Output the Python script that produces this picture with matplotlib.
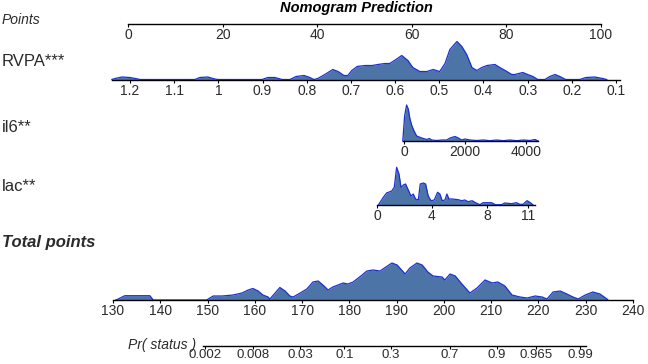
import numpy as np
import matplotlib.pyplot as plt
from matplotlib.ticker import NullLocator

plt.rcParams['font.family'] = ['Liberation Sans', 'DejaVu Sans']

W, H = 648, 364

# ---- data ----
points_ticks = [0, 20, 40, 60, 80, 100]

rvpa_ticks = [1.2, 1.1, 1.0, 0.9, 0.8, 0.7, 0.6, 0.5, 0.4, 0.3, 0.2, 0.1]
rvpa_labels = ["1.2", "1.1", "1", "0.9", "0.8", "0.7", "0.6", "0.5", "0.4", "0.3", "0.2", "0.1"]
rvpa_x = [1.241, 1.234, 1.218, 1.200, 1.182, 1.177,
          1.053, 1.042, 1.024, 1.008, 1.001,
          0.901, 0.888, 0.872, 0.856,
          0.838, 0.824, 0.806, 0.793, 0.784,
          0.775, 0.759, 0.741, 0.729, 0.716, 0.707, 0.698, 0.686, 0.668, 0.652,
          0.639, 0.623, 0.612, 0.598, 0.585, 0.571, 0.560, 0.544, 0.528, 0.514,
          0.499, 0.487, 0.476, 0.460, 0.449, 0.438, 0.426, 0.415, 0.404, 0.392,
          0.374, 0.363, 0.347, 0.336, 0.329, 0.311, 0.300, 0.288, 0.277,
          0.261, 0.250, 0.238, 0.227, 0.214,
          0.182, 0.168, 0.148, 0.130, 0.121]
rvpa_d = [0, 1, 2.5, 2, 0.5, 0,
          0, 2, 2.5, 0.5, 0,
          0, 2, 2, 0,
          0, 3, 4, 2, 0,
          1, 5, 10, 8, 4, 4, 9, 13, 14, 14,
          15, 16, 16, 20, 24, 19, 12, 8, 8, 10,
          8, 16, 30, 38, 33, 25, 12, 9, 12, 14,
          15, 12, 8, 5, 5, 7, 5, 3, 0,
          0, 3, 5, 3, 0,
          0, 2, 2.5, 1, 0]

il6_ticks = [0, 2000, 4000]
il6_x = [-40, 20, 85, 140, 195, 260, 330, 415, 580, 745, 830, 905, 1070, 1235, 1400,
         1510, 1670, 1780, 1890, 2000, 2165, 2385, 2600, 2820, 3040, 3255, 3475,
         3695, 3915, 4130, 4295, 4400]
il6_d = [0, 25, 36, 32, 22, 15, 10, 5, 3, 1.5, 2.5, 1, 0.5, 1, 1,
         3, 4.5, 3, 1, 2, 1, 0.5, 1, 0.3, 1, 0.3, 1,
         0.3, 1, 0.5, 1.5, 0]

lac_ticks = [0, 4, 8, 11]
lac_x = [0.10, 0.46, 0.70, 1.07, 1.26, 1.43, 1.60, 1.75, 1.92, 2.08, 2.28, 2.47,
         2.64, 2.81, 3.01, 3.15, 3.37, 3.54, 3.73, 3.93, 4.17, 4.41, 4.58, 4.75,
         4.95, 5.09, 5.24, 5.48, 5.92, 6.16, 6.40, 6.64, 6.93, 7.18, 7.49, 7.73,
         8.34, 8.63, 9.07, 9.31, 9.80, 10.16, 10.40, 10.64, 10.93, 11.13, 11.37]
lac_d = [0, 7.7, 12, 14, 17.7, 37.7, 31, 17.7, 20, 21, 15, 9,
         11, 6, 5, 21, 22, 21, 9, 4.3, 5, 12.7, 11, 4.3,
         5, 11, 6, 6, 5.3, 4.3, 5, 3.3, 4.3, 2.3, 0.3, 2.3,
         2.3, 0.3, 0.3, 2, 1.3, 2.3, 0.7, 0.7, 4.3, 2.7, 0]

total_ticks = list(range(130, 250, 10))
total_x = [130.6, 131.1, 132.5, 137.8, 138.5,
           149.8, 151.2, 153.1, 155.4, 157.3, 158.6, 159.6, 160.7, 161.7, 162.8,
           163.2, 164.3, 165.3, 166.4, 167.4, 168.1, 169.6, 171.0, 172.3, 173.4,
           174.4, 175.5, 176.5, 178.7, 179.7, 180.8, 182.7, 183.7, 185.0, 186.5,
           187.1, 189.0, 190.1, 191.8, 192.8, 194.3, 195.4, 196.6, 197.7, 199.6,
           200.2, 201.3, 202.4, 203.8, 205.5, 207.0, 208.7, 210.2, 211.4, 212.9,
           214.4, 216.1, 217.6, 219.3, 220.8, 221.8, 223.1, 224.6, 226.0, 227.3,
           228.4, 229.9, 231.5, 233.0, 234.5, 234.7]
total_d = [0, 1, 4.3, 4.3, 0,
           0, 4, 4, 5, 7, 10, 11.5, 9, 5, 3,
           1, 7, 12.5, 9, 4, 3, 7, 11, 18, 19,
           15, 10, 13, 17, 16, 18, 25, 29, 30, 29,
           31, 37, 35, 26, 32, 37, 35, 28, 24, 23,
           20, 26, 24, 16, 7, 12, 20, 17, 18, 14,
           5, 3, 2, 4, 3, 1, 8, 9, 6, 3,
           1, 5, 8, 6, 1, 0]

pr_ticks = [0.002, 0.008, 0.03, 0.1, 0.3, 0.7, 0.9, 0.965, 0.99]
pr_labels = ["0.002", "0.008", "0.03", "0.1", "0.3", "0.7", "0.9", "0.965", "0.99"]

FILL = "#4d74a6"
EDGE = "#1a2fd6"
TXT = "#2b2b2b"

fig = plt.figure(figsize=(W / 100, H / 100), dpi=100)


def lin_lim(v1, p1, v2, p2):
    s = (v2 - v1) / (p2 - p1)
    return v1 - p1 * s, v1 + (W - p1) * s


def row(base, up=45, down=22):
    ax = fig.add_axes([0, (H - base - down) / H, 1, (up + down) / H])
    ax.patch.set_visible(False)
    ax.set_ylim(-down, up)
    for s in ["top", "left", "right"]:
        ax.spines[s].set_visible(False)
    ax.spines["bottom"].set_position(("data", 0))
    ax.spines["bottom"].set_linewidth(1.0)
    ax.set_yticks([])
    return ax


def finish(ax, xlim, bounds, ticks, labels, pad=0.5, size=10):
    ax.set_xlim(*xlim)
    ax.spines["bottom"].set_bounds(*bounds)
    ax.xaxis.set_minor_locator(NullLocator())
    ax.set_xticks(ticks, labels)
    ax.tick_params(axis="x", length=2.5, width=0.8, pad=pad, labelsize=size,
                   labelcolor=TXT)


def density(ax, x, d):
    ax.fill_between(x, 0, d, color=FILL, lw=0, zorder=1)
    ax.plot(x, d, color=EDGE, lw=0.9, zorder=2)


# Points
ax = row(24)
finish(ax, lin_lim(0, 128, 100, 601), (0, 100), points_ticks,
       [str(t) for t in points_ticks])

# RVPA
ax = row(79.5)
density(ax, rvpa_x, rvpa_d)
finish(ax, lin_lim(1.2, 130, 0.1, 616), (0.09, 1.24), rvpa_ticks, rvpa_labels)

# il6
ax = row(141)
density(ax, il6_x, il6_d)
finish(ax, lin_lim(0, 404, 4000, 526), (-40, 4400), il6_ticks,
       [str(t) for t in il6_ticks])

# lac
ax = row(205)
density(ax, lac_x, lac_d)
finish(ax, lin_lim(0, 377, 11, 528), (0, 11.5), lac_ticks,
       [str(t) for t in lac_ticks])

# Total points
ax = row(300)
density(ax, total_x, total_d)
finish(ax, lin_lim(130, 113, 240, 633), (130, 240), total_ticks,
       [str(t) for t in total_ticks])

# Pr( status ) on logit scale
ax = row(346, up=10, down=17)
ax.set_xscale("logit")
lg = lambda p: np.log(p / (1 - p))
ex = lambda z: 1 / (1 + np.exp(-z))
l1, l2 = lg(0.002), lg(0.99)
k = (580 - 205) / (l2 - l1)
finish(ax, (ex(l1 - 205 / k), ex(l1 + (W - 205) / k)), (0.0019, 0.9916),
       pr_ticks, pr_labels, pad=-0.5, size=9.5)

# row labels
def label(x, y, s, **kw):
    fig.text(x / W, 1 - y / H, s, va="center", ha="left", color=TXT, **kw)

fig.text(356 / W, 1 - 8 / H, "Nomogram Prediction", ha="center", va="center",
         fontsize=10.5, fontweight="bold", fontstyle="italic", color="black")
label(2, 20, "Points", fontsize=10, fontstyle="italic")
label(2, 62, "RVPA***", fontsize=12)
label(2, 127, "il6**", fontsize=12)
label(2, 187, "lac**", fontsize=12)
label(2, 243, "Total points", fontsize=12, fontweight="bold", fontstyle="italic")
label(128, 345, "Pr( status )", fontsize=10, fontstyle="italic")

fig.savefig("out.png", dpi=100)
